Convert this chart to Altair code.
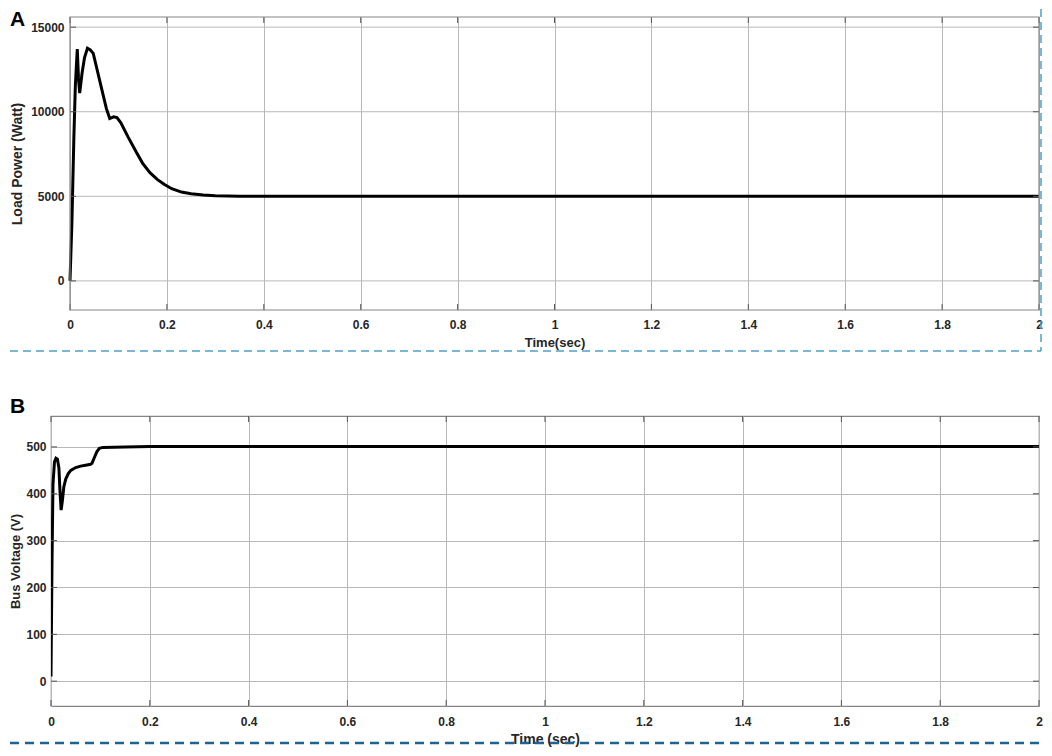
import altair as alt
import pandas as pd

# ---------------- data ----------------
time_a = [0, 0.004, 0.008, 0.011, 0.015, 0.0175, 0.020, 0.025, 0.030, 0.036,
          0.042, 0.048, 0.055, 0.065, 0.075, 0.082, 0.090, 0.097, 0.105, 0.12,
          0.137, 0.15, 0.165, 0.18, 0.195, 0.21, 0.23, 0.25, 0.275, 0.3,
          0.35, 0.4, 0.6, 0.8, 1.0, 1.2, 1.4, 1.6, 1.8, 2.0]
power_a = [0, 3500, 8500, 11500, 13700, 12000, 11100, 12300, 13200, 13750,
           13650, 13450, 12600, 11400, 10200, 9600, 9700, 9650, 9350, 8500,
           7600, 6950, 6400, 6000, 5700, 5450, 5250, 5150, 5080, 5040,
           5010, 5000, 5000, 5000, 5000, 5000, 5000, 5000, 5000, 5000]

time_b = [0, 0.002, 0.004, 0.007, 0.010, 0.013, 0.016, 0.018, 0.0205, 0.023,
          0.026, 0.030, 0.035, 0.040, 0.050, 0.060, 0.070, 0.080, 0.083, 0.088,
          0.093, 0.098, 0.105, 0.15, 0.2, 0.4, 0.6, 0.8, 1.0, 1.2,
          1.4, 1.6, 1.8, 2.0]
volt_b = [10, 250, 420, 468, 476, 474, 455, 410, 365, 385,
          415, 432, 443, 450, 456, 459, 461, 463, 465, 478,
          490, 497, 499, 500, 501, 501, 501, 501, 501, 501,
          501, 501, 501, 501]

x_ticks = [0, 0.2, 0.4, 0.6, 0.8, 1.0, 1.2, 1.4, 1.6, 1.8, 2.0]
y_ticks_a = [0, 5000, 10000, 15000]
y_ticks_b = [0, 100, 200, 300, 400, 500]

panel_letters = ["A", "B"]
x_titles = ["Time(sec)", "Time (sec)"]
y_titles = ["Load Power (Watt)", "Bus Voltage (V)"]

FONT = "Liberation Sans"
TXT = "#262626"
GRID = "#b8b8b8"
FRAME = "#858585"
TICK = "#555555"

# layout (pixels)
W, H_A, H_B = 988, 293, 290
A_INSET = 19                       # panel A plot starts this far right of panel B
A_LEFT = -A_INSET * 2 / (W - A_INSET)   # time value at the left edge of panel A's area
YA = [-1720, 15600]
YB = [-53, 566]


def x_axis(title, tsize, lpad, tpad, **kw):
    return alt.Axis(values=x_ticks, format=".1~f", title=title, grid=True,
                    ticks=False, tickSize=0, domain=False, labelFlush=False,
                    labelPadding=lpad, titlePadding=tpad,
                    labelFont=FONT, labelFontSize=12, labelFontWeight="bold",
                    labelColor=TXT, titleFont=FONT, titleFontSize=tsize,
                    titleFontWeight="bold", titleColor=TXT,
                    gridColor=GRID, gridWidth=1, **kw)


def y_axis(title, values, tsize, lpad, tpad, grid, **kw):
    return alt.Axis(values=values, format="d", title=title, grid=grid,
                    ticks=False, tickSize=0, domain=False,
                    labelPadding=lpad, titlePadding=tpad,
                    labelFont=FONT, labelFontSize=12, labelFontWeight="bold",
                    labelColor=TXT, titleFont=FONT, titleFontSize=tsize,
                    titleFontWeight="bold", titleColor=TXT,
                    gridColor=GRID, gridWidth=1, **kw)


dfa = pd.DataFrame({"t": time_a, "p": power_a})
dfb = pd.DataFrame({"t": time_b, "v": volt_b})
lab_a = pd.DataFrame({"label": [panel_letters[0]]})
lab_b = pd.DataFrame({"label": [panel_letters[1]]})
ya_df = pd.DataFrame({"v": y_ticks_a})
yb_df = pd.DataFrame({"v": y_ticks_b})
xt_df = pd.DataFrame({"t": x_ticks})

# ---------------- panel A ----------------
xa = alt.Scale(domain=[A_LEFT, 2], nice=False, zero=False)
ya = alt.Scale(domain=YA, nice=False)

hgrid_a = alt.Chart(ya_df).mark_rule(color=GRID, strokeWidth=1).encode(
    y=alt.Y("v:Q", scale=ya,
            axis=y_axis(y_titles[0], y_ticks_a, 14, 6, 6, False, offset=-A_INSET)),
    x=alt.datum(0), x2=alt.datum(2))
line_a = alt.Chart(dfa).mark_line(color="black", strokeWidth=3, clip=True).encode(
    x=alt.X("t:Q", scale=xa,
            axis=x_axis(x_titles[0], 13, 9.5, 6, titleX=(A_INSET + W) / 2)),
    y=alt.Y("p:Q", scale=ya),
)
frame_a = alt.Chart(lab_a).mark_rect(fill=None, fillOpacity=0, stroke=FRAME,
                                     strokeWidth=1.2).encode(
    x=alt.datum(0), x2=alt.datum(2), y=alt.datum(YA[1]), y2=alt.datum(YA[0]))
ltick_a = alt.Chart(ya_df).mark_rule(color=TICK, x2Offset=6).encode(
    y="v:Q", x=alt.datum(0), x2=alt.datum(0))
rtick_a = alt.Chart(ya_df).mark_rule(color=TICK, x2Offset=-6).encode(
    y="v:Q", x=alt.datum(2), x2=alt.datum(2))
btick_a = alt.Chart(xt_df).mark_rule(color=TICK, y2Offset=-6).encode(
    x="t:Q", y=alt.datum(YA[0]), y2=alt.datum(YA[0]))
ttick_a = alt.Chart(xt_df).mark_rule(color=TICK, y2Offset=6).encode(
    x="t:Q", y=alt.datum(YA[1]), y2=alt.datum(YA[1]))
text_a = alt.Chart(lab_a).mark_text(align="left", baseline="top", font=FONT,
                                    fontSize=21, fontWeight="bold", color="black").encode(
    text="label:N", x=alt.value(-41), y=alt.value(-8))
rule_ha = alt.Chart(lab_a).mark_rule(color="#4f9fc9", strokeWidth=1.5,
                                     strokeDash=[8, 5]).encode(
    x=alt.value(-41), x2=alt.value(990), y=alt.value(334))
rule_va = alt.Chart(lab_a).mark_rule(color="#4f9fc9", strokeWidth=1.5,
                                     strokeDash=[8, 5]).encode(
    x=alt.value(990), y=alt.value(-8), y2=alt.value(334))

panel_a = alt.layer(hgrid_a, line_a, ltick_a, rtick_a, btick_a, ttick_a, frame_a,
                    text_a, rule_ha, rule_va).properties(
    width=W, height=H_A, view=alt.ViewBackground(stroke=None))

# ---------------- panel B ----------------
xb = alt.Scale(domain=[0, 2], nice=False, zero=False)
yb = alt.Scale(domain=YB, nice=False)

line_b = alt.Chart(dfb).mark_line(color="black", strokeWidth=3, clip=True).encode(
    x=alt.X("t:Q", scale=xb, axis=x_axis(x_titles[1], 14, 10, 5)),
    y=alt.Y("v:Q", scale=yb,
            axis=y_axis(y_titles[1], y_ticks_b, 13, 5, 3, True)),
)
ltick_b = alt.Chart(yb_df).mark_rule(color=TICK, x2Offset=6).encode(
    y="v:Q", x=alt.datum(0), x2=alt.datum(0))
rtick_b = alt.Chart(yb_df).mark_rule(color=TICK, x2Offset=-6).encode(
    y="v:Q", x=alt.datum(2), x2=alt.datum(2))
btick_b = alt.Chart(xt_df).mark_rule(color=TICK, y2Offset=-6).encode(
    x="t:Q", y=alt.datum(YB[0]), y2=alt.datum(YB[0]))
ttick_b = alt.Chart(xt_df).mark_rule(color=TICK, y2Offset=6).encode(
    x="t:Q", y=alt.datum(YB[1]), y2=alt.datum(YB[1]))
text_b = alt.Chart(lab_b).mark_text(align="left", baseline="top", font=FONT,
                                    fontSize=21, fontWeight="bold", color="black").encode(
    text="label:N", x=alt.value(-41), y=alt.value(-20))
rule_hb = alt.Chart(lab_b).mark_rule(color="#1d6394", strokeWidth=2.5,
                                     strokeDash=[9, 6]).encode(
    x=alt.value(-41), x2=alt.value(990), y=alt.value(327))

panel_b = alt.layer(line_b, ltick_b, rtick_b, btick_b, ttick_b, text_b, rule_hb).properties(
    width=W, height=H_B)

chart = alt.vconcat(panel_a, panel_b, spacing=43).properties(
    padding=0, background="white"
).configure_view(stroke=FRAME, strokeWidth=1.2)

chart.save("out.html", embed_options={"renderer": "svg", "actions": False})
